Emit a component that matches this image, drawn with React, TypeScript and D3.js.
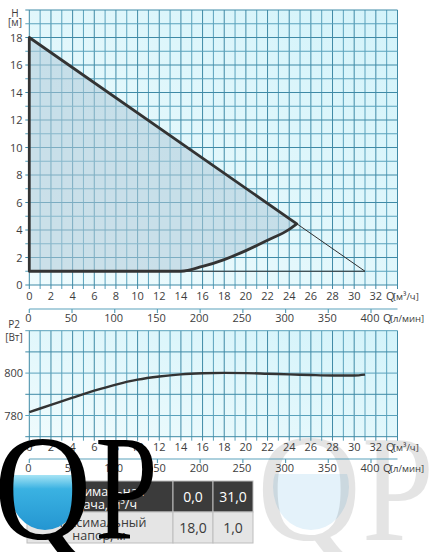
import { useEffect, useRef } from 'react'
import * as d3 from 'd3'

// axis ticks
const qTicks = [0, 2, 4, 6, 8, 10, 12, 14, 16, 18, 20, 22, 24, 26, 28, 30, 32]
const lpmTicks = [0, 50, 100, 150, 200, 250, 300, 350, 400]
const hTicks = [0, 2, 4, 6, 8, 10, 12, 14, 16, 18]
const p2Ticks = [780, 800]

// H-Q working field
const maxHeadLine = [{ q: 0, h: 18 }, { q: 31, h: 1 }]
const minHeadLine = [{ q: 0, h: 1 }, { q: 31, h: 1 }]
const fieldBottom = [
  { q: 0, h: 1 }, { q: 14, h: 1 }, { q: 16, h: 1.35 }, { q: 18, h: 1.85 },
  { q: 20, h: 2.5 }, { q: 22, h: 3.25 }, { q: 24, h: 4.05 }, { q: 24.7, h: 4.45 },
]
const fieldTop = { q: 0, h: 18 }

// P2-Q
const p2Curve = [
  { q: 0, p: 781.6 }, { q: 2, p: 785 }, { q: 4, p: 788.4 }, { q: 6, p: 791.7 },
  { q: 8, p: 794.6 }, { q: 10, p: 796.9 }, { q: 12, p: 798.4 }, { q: 14, p: 799.4 },
  { q: 16, p: 799.9 }, { q: 18, p: 800.1 }, { q: 20, p: 800 }, { q: 22, p: 799.7 },
  { q: 24, p: 799.4 }, { q: 26, p: 799.1 }, { q: 28, p: 798.9 }, { q: 30, p: 798.9 },
  { q: 31, p: 799.3 },
]

const tableRows = [
  { label: ['Максимальная', 'подача, м³/ч'], a: '0,0', b: '31,0' },
  { label: ['Максимальный', 'напор, м'], a: '18,0', b: '1,0' },
]

const FONT = '"Open Sans", sans-serif'
const SERIF = '"Liberation Serif", serif'
const TXT = '#3d3d3d'
const GRID = '#5aa2bc'
const GRID_MAJ = '#3f8aa6'

export default function App() {
  const svgRef = useRef<SVGSVGElement>(null)

  useEffect(() => {
    if (!svgRef.current) return
    const svg = d3.select(svgRef.current)
    svg.selectAll('*').remove()

    const x = d3.scaleLinear().domain([0, 34]).range([29.3, 397.5])
    const xl = d3.scaleLinear().domain([0, 400]).range([29.3, 371])
    const yH = d3.scaleLinear().domain([0, 20]).range([285, 10])
    const yP = d3.scaleLinear().domain([770, 820]).range([436.7, 330.7])

    const defs = svg.append('defs')
    const bg = defs.append('linearGradient').attr('id', 'bg')
      .attr('x1', 0).attr('y1', 1).attr('x2', 1).attr('y2', 0)
    bg.append('stop').attr('offset', 0).attr('stop-color', '#effbfd')
    bg.append('stop').attr('offset', 1).attr('stop-color', '#d3f3fa')
    const water = defs.append('linearGradient').attr('id', 'water')
      .attr('x1', 0).attr('y1', 0).attr('x2', 0).attr('y2', 1)
    water.append('stop').attr('offset', 0).attr('stop-color', '#a6e4f5')
    water.append('stop').attr('offset', 0.2).attr('stop-color', '#3ab2e2')
    water.append('stop').attr('offset', 1).attr('stop-color', '#1c8bcb')
    defs.append('clipPath').attr('id', 'qIn')
      .append('ellipse').attr('cx', 45).attr('cy', 487).attr('rx', 36).attr('ry', 43)
    defs.append('clipPath').attr('id', 'qIn2')
      .append('ellipse').attr('cx', 311).attr('cy', 487).attr('rx', 38).attr('ry', 43)

    // faint logo on the right
    svg.append('g').attr('clip-path', 'url(#qIn2)')
      .append('rect').attr('x', 265).attr('y', 474).attr('width', 95).attr('height', 70)
      .attr('fill', '#e4f2fa')
    svg.append('text').attr('transform', 'translate(257,540) scale(0.95,1)')
      .attr('font-family', SERIF).attr('font-size', 152)
      .attr('fill', '#000').attr('opacity', 0.1).text('Q')
    svg.append('text').attr('transform', 'translate(362,540) scale(0.85,1)')
      .attr('font-family', SERIF).attr('font-size', 152)
      .attr('fill', '#000').attr('opacity', 0.1).text('P')

    const grid = (yScale: d3.ScaleLinear<number, number>, y0: number, y1: number, step: number) => {
      const g = svg.append('g')
      g.append('rect').attr('x', x(0)).attr('y', yScale(y1))
        .attr('width', x(34) - x(0)).attr('height', yScale(y0) - yScale(y1))
        .attr('fill', 'url(#bg)')
      d3.range(0, 35).forEach(v => {
        g.append('line').attr('x1', x(v)).attr('x2', x(v))
          .attr('y1', yScale(y1)).attr('y2', yScale(y0) + 4)
          .attr('stroke', v % 2 === 0 ? GRID_MAJ : GRID).attr('stroke-width', 1)
      })
      d3.range(y0, y1 + step / 2, step).forEach((v, i) => {
        g.append('line').attr('x1', x(0) - 4).attr('x2', x(34))
          .attr('y1', yScale(v)).attr('y2', yScale(v))
          .attr('stroke', i % 2 === 0 ? GRID_MAJ : GRID).attr('stroke-width', 1)
      })
    }

    grid(yH, 0, 20, 1)
    grid(yP, 770, 820, 10)

    const label = (tx: number, ty: number, s: string, size = 11, anchor = 'middle', fill = TXT) =>
      svg.append('text').attr('x', tx).attr('y', ty).attr('text-anchor', anchor)
        .attr('font-family', FONT).attr('font-size', size).attr('fill', fill).text(s)

    // H axis
    hTicks.forEach(v => label(22.5, yH(v) + 4, String(v), 11, 'end'))
    label(15, 17, 'H', 10)
    label(15, 26, '[м]', 10)
    // P2 axis
    p2Ticks.forEach(v => label(23, yP(v) + 4, String(v), 11, 'end'))
    label(14, 328, 'P2', 10)
    label(14, 341, '[Вт]', 10)

    // Q axes
    const qAxes = (yq: number, yLine: number) => {
      qTicks.forEach(v => label(x(v), yq, String(v)))
      label(386, yq, 'Q', 11, 'start')
      label(393, yq, '[м³/ч]', 9.5, 'start')
      svg.append('line').attr('x1', x(0)).attr('x2', x(34)).attr('y1', yLine).attr('y2', yLine)
        .attr('stroke', GRID).attr('stroke-width', 1.2)
      lpmTicks.forEach(v => {
        svg.append('line').attr('x1', xl(v)).attr('x2', xl(v)).attr('y1', yLine).attr('y2', yLine + 4)
          .attr('stroke', GRID).attr('stroke-width', 1.2)
        label(xl(v) - 1, yLine + 13, String(v))
      })
      label(383, yLine + 13, 'Q', 11, 'start')
      label(390, yLine + 13, '[л/мин]', 9.5, 'start')
    }
    qAxes(300, 309)
    qAxes(451, 459)

    // H-Q field
    const lineH = d3.line<{ q: number; h: number }>().x(d => x(d.q)).y(d => yH(d.h))
    const bottomPath = d3.line<{ q: number; h: number }>().x(d => x(d.q)).y(d => yH(d.h))
      .curve(d3.curveMonotoneX)(fieldBottom)
    const fieldPath = `${bottomPath}L${x(fieldTop.q)},${yH(fieldTop.h)}Z`
    svg.append('path').attr('d', fieldPath).attr('fill', '#aecbd9').attr('opacity', 0.55)
    svg.append('path').attr('d', lineH(maxHeadLine)).attr('fill', 'none')
      .attr('stroke', '#2f2f2f').attr('stroke-width', 1)
    svg.append('path').attr('d', lineH(minHeadLine)).attr('fill', 'none')
      .attr('stroke', '#2f2f2f').attr('stroke-width', 1)
    svg.append('path').attr('d', fieldPath).attr('fill', 'none')
      .attr('stroke', '#333').attr('stroke-width', 2.8).attr('stroke-linejoin', 'round')

    // P2 curve
    svg.append('path')
      .attr('d', d3.line<{ q: number; p: number }>().x(d => x(d.q)).y(d => yP(d.p)).curve(d3.curveMonotoneX)(p2Curve))
      .attr('fill', 'none').attr('stroke', '#333').attr('stroke-width', 2.4)

    // table
    const cols = [27, 173, 213, 253]
    const rowsY = [481, 512, 543]
    tableRows.forEach((r, i) => {
      const dark = i === 0
      const fill = dark ? '#3b3b3b' : '#e5e5e5'
      const tc = dark ? '#ffffff' : '#3a3a3a'
      for (let c = 0; c < 3; c++) {
        svg.append('rect').attr('x', cols[c]).attr('y', rowsY[i])
          .attr('width', cols[c + 1] - cols[c]).attr('height', rowsY[i + 1] - rowsY[i])
          .attr('fill', fill).attr('stroke', '#bdbdbd').attr('stroke-width', 1)
      }
      const cy = (rowsY[i] + rowsY[i + 1]) / 2
      label(99, cy - 1, r.label[0], 12.5, 'middle', tc)
      label(99, cy + 12, r.label[1], 12.5, 'middle', tc)
      label((cols[1] + cols[2]) / 2, cy + 5.5, r.a, 14, 'middle', tc)
      label((cols[2] + cols[3]) / 2, cy + 5.5, r.b, 14, 'middle', tc)
    })

    // black logo on the left
    svg.append('g').attr('clip-path', 'url(#qIn)')
      .append('rect').attr('x', 0).attr('y', 475).attr('width', 95).attr('height', 70)
      .attr('fill', 'url(#water)')
    svg.append('text').attr('transform', 'translate(-6,539) scale(0.9,1)')
      .attr('font-family', SERIF).attr('font-size', 150)
      .attr('fill', '#000').text('Q')
    svg.append('text').attr('transform', 'translate(95,539) scale(0.75,1)')
      .attr('font-family', SERIF).attr('font-size', 150)
      .attr('fill', '#000').text('P')
  }, [])

  return (
    <svg ref={svgRef} width={430} height={552}
      style={{ position: 'absolute', left: 0, top: 0, background: '#fff' }} />
  )
}
